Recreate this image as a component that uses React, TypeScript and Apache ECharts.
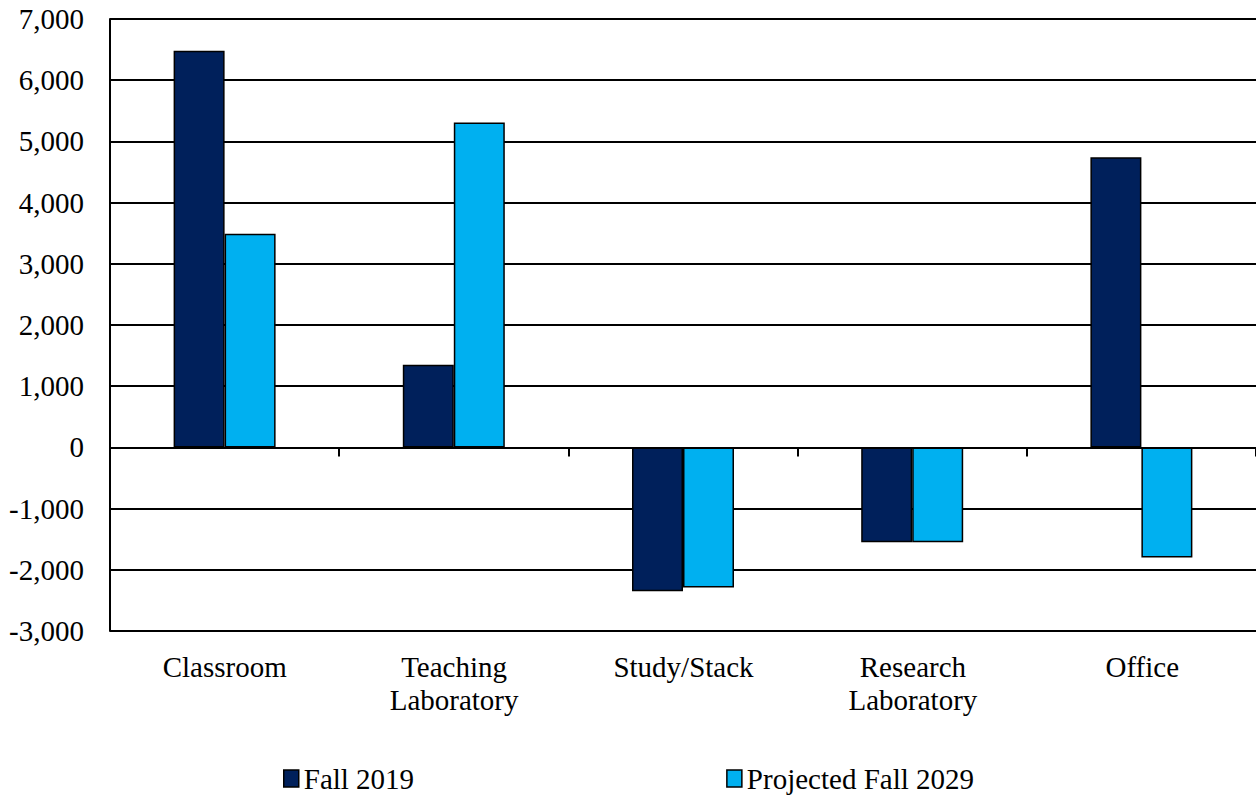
import React, { useEffect, useRef } from "react";
import * as echarts from "echarts";

const categories = ["Classroom", "Teaching\nLaboratory", "Study/Stack", "Research\nLaboratory", "Office"];
const fall2019 = [6480, 1350, -2350, -1550, 4740];
const projected2029 = [3490, 5310, -2290, -1550, -1800];
const seriesNames = ["Fall 2019", "Projected Fall 2029"];

export default function App() {
  const ref = useRef<HTMLDivElement>(null);
  useEffect(() => {
    const chart = echarts.init(ref.current!, null, { renderer: "svg" });
    const font = "'Liberation Serif', 'Times New Roman', serif";
    chart.setOption({
      animation: false,
      textStyle: { fontFamily: font },
      grid: { left: 110, right: 0, top: 19, bottom: 166, containLabel: false },
      legend: {
        left: 283,
        top: 764,
        padding: 0,
        icon: "rect",
        itemWidth: 15,
        itemHeight: 17,
        itemGap: 312,
        textStyle: { fontFamily: font, fontSize: 29, color: "#000" },
        data: seriesNames.map((n) => ({ name: n, itemStyle: { borderColor: "#000", borderWidth: 1.5 } })),
      },
      xAxis: {
        type: "category",
        data: categories,
        axisLine: { onZero: true, lineStyle: { color: "#000", width: 2 } },
        axisTick: { show: true, length: 9, inside: false, lineStyle: { color: "#000", width: 2 } },
        axisLabel: { show: false },
      },
      yAxis: {
        type: "value",
        min: -3000,
        max: 7000,
        interval: 1000,
        axisLine: { show: true, lineStyle: { color: "#000", width: 2 } },
        axisTick: { show: false },
        splitLine: { lineStyle: { color: "#000", width: 2 } },
        axisLabel: {
          fontFamily: font,
          fontSize: 29,
          color: "#000",
          margin: 26,
          formatter: (v: number) => v.toLocaleString("en-US"),
        },
      },
      graphic: categories.map((c, i) => ({
        type: "text",
        x: 110 + (i + 0.5) * 229.4,
        y: 650,
        style: {
          text: c,
          fontFamily: font,
          fontSize: 29,
          lineHeight: 33,
          fill: "#000",
          align: "center",
          verticalAlign: "top",
        },
      })),
      series: [
        {
          name: seriesNames[0],
          type: "bar",
          data: fall2019,
          barGap: "0%",
          barCategoryGap: "55.5%",
          itemStyle: { color: "#00205B", borderColor: "#000", borderWidth: 1.5 },
        },
        {
          name: seriesNames[1],
          type: "bar",
          data: projected2029,
          barGap: "0%",
          barCategoryGap: "55.5%",
          itemStyle: { color: "#00B0F0", borderColor: "#000", borderWidth: 1.5 },
        },
      ],
    });
    return () => chart.dispose();
  }, []);
  return <div ref={ref} style={{ width: 1256, height: 797, position: "absolute", left: 0, top: 0 }} />;
}
